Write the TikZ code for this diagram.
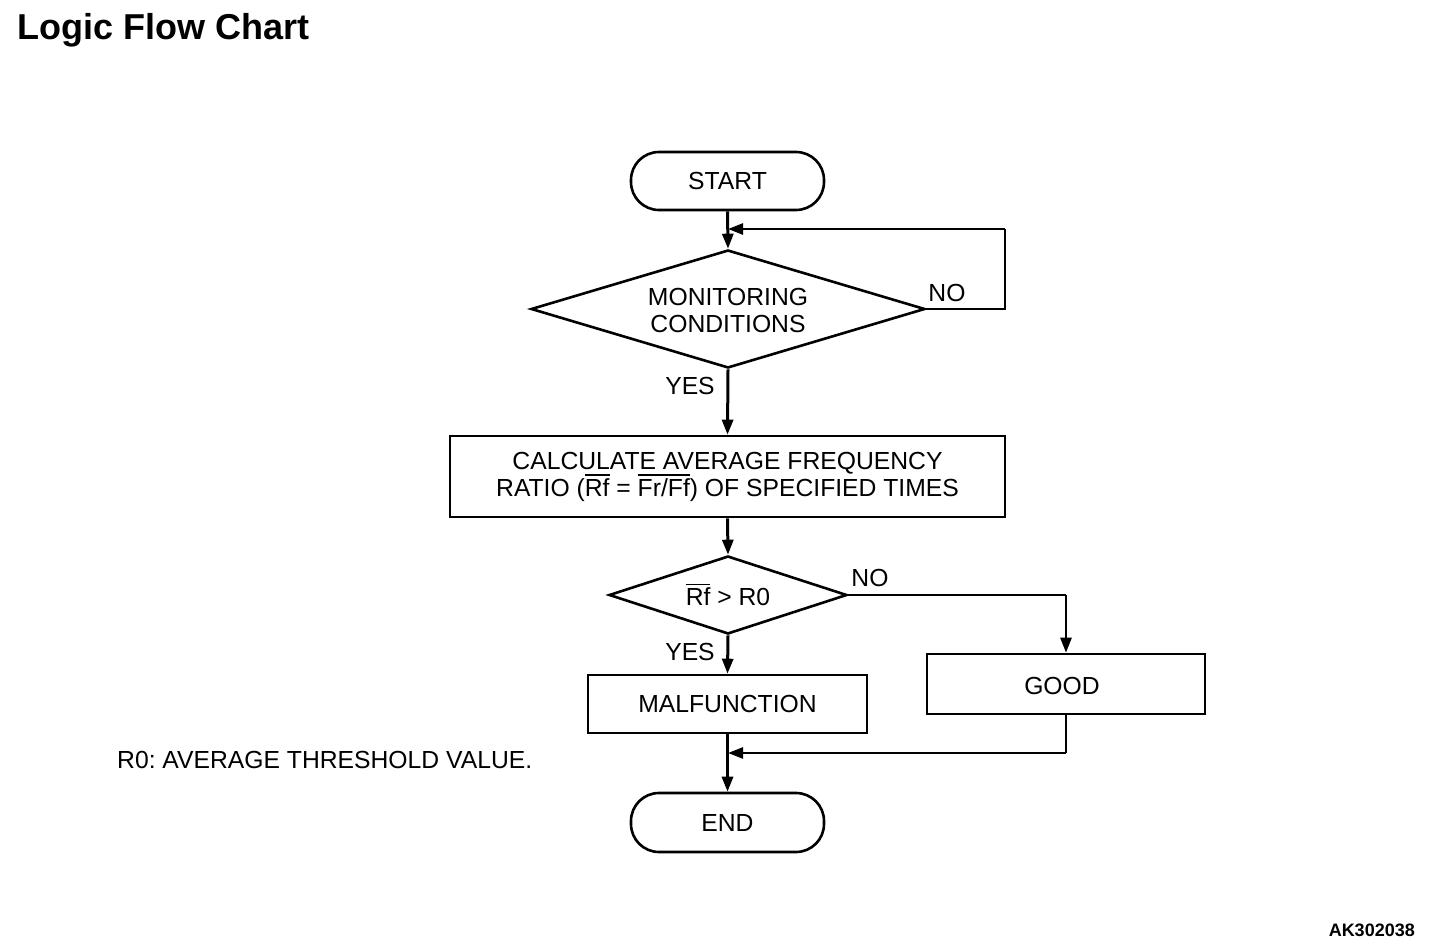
\documentclass[tikz,border=0pt]{standalone}
\usepackage{fontspec}
\setmainfont{Liberation Sans}
\usetikzlibrary{shapes.geometric,arrows.meta}
\newcommand{\ovl}[1]{\leavevmode\vbox{\hrule height 1.6pt\kern 2.5pt\hbox{#1}}}
\frenchspacing
\begin{document}
\begin{tikzpicture}[x=1pt,y=-1pt,
  txt/.style={font=\fontsize{24.7}{27}\selectfont},
  term/.style={draw,line width=2.6pt,rounded corners=28pt,minimum width=193pt,minimum height=58pt,inner sep=0pt,txt},
  proc/.style={draw,line width=2.6pt,inner sep=0pt,align=center,txt},
  dec/.style={draw,line width=2.6pt,diamond,inner sep=0pt},
  flow/.style={line width=3pt,-{Triangle[length=15pt,width=11pt]}},
  line/.style={line width=2.6pt},
  lflow/.style={line width=2.6pt,-{Triangle[length=15pt,width=11pt]}},
  lbl/.style={txt,inner sep=0pt,align=center}]
\useasboundingbox (0,0) rectangle (1440,942);
\node[anchor=west,font=\fontsize{36}{40}\selectfont\bfseries,inner sep=0pt] (title) at (17,30) {Logic Flow Chart};
\node[term] (start) at (727.5,181) {\raisebox{-2pt}{START}};
\node[dec,minimum width=394pt,minimum height=118pt] (mon) at (728,309) {};
\node[lbl] (monT) at (728,310) {MONITORING\\CONDITIONS};
\node[proc,minimum width=555pt,minimum height=81pt] (calc) at (727.5,476.5) {CALCULATE AVERAGE FREQUENCY\\RATIO (\ovl{Rf} = \ovl{Fr/Ff}) OF SPECIFIED TIMES};
\node[dec,minimum width=238pt,minimum height=78pt] (cmp) at (728,595) {};
\node[lbl] (cmpT) at (728,595) {\ovl{Rf} > R0};
\node[proc,minimum width=279pt,minimum height=58pt] (mal) at (727.5,704) {\raisebox{-1pt}{MALFUNCTION}};
\node[draw,line width=2.6pt,inner sep=0pt,minimum width=278pt,minimum height=60pt] (good) at (1066,684) {};
\node[lbl] (goodT) at (1062,686) {GOOD};
\node[term,minimum height=59pt] (end) at (727.5,822.5) {END};
\coordinate (loopR) at (1005,309);
\coordinate (loopT) at (1005,229);
\coordinate (loopE) at (728,229);
\coordinate (goodR) at (1066,595);
\coordinate (goodB) at (1066,753);
\coordinate (goodE) at (728,753);
\draw[flow] (start.south) -- (mon.north);
\draw[line] (mon.east) -- (loopR) -- (loopT);
\draw[lflow] (loopT) -- (loopE);
\draw[flow] (mon.south) -- (calc.north);
\draw[flow] (calc.south) -- (cmp.north);
\draw[flow] (cmp.south) -- (mal.north);
\draw[line] (cmp.east) -- (goodR);
\draw[lflow] (goodR) -- (good.north);
\draw[line] (good.south) -- (goodB);
\draw[lflow] (goodB) -- (goodE);
\draw[flow] (mal.south) -- (end.north);
\node[lbl] (no1) at (947,293) {NO};
\node[lbl] (yes1) at (690,386) {YES};
\node[lbl] (no2) at (870,578) {NO};
\node[lbl] (yes2) at (690,652) {YES};
\node[lbl,anchor=west] (note) at (117,760) {R0: AVERAGE THRESHOLD VALUE.};
\node[anchor=east,font=\fontsize{18}{20}\selectfont\bfseries,inner sep=0pt] (code) at (1415,930) {AK302038};
\end{tikzpicture}
\end{document}
